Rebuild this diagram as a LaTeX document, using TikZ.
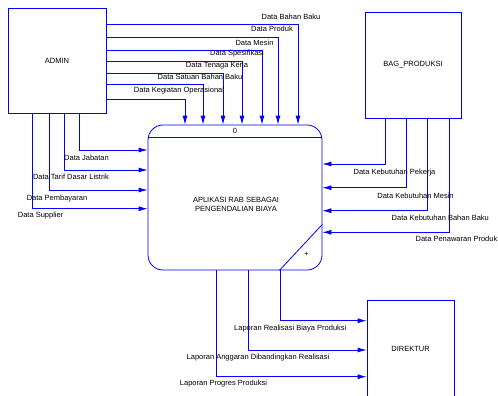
\documentclass[tikz,border=0pt]{standalone}
\usepackage{fontspec}
\setmainfont{Liberation Sans}
\usetikzlibrary{arrows.meta, positioning}

\tikzset{
  entity/.style={draw=blue, line width=0.8pt, minimum width=98pt, minimum height=105pt, inner sep=0pt},
  flow/.style={draw=blue, line width=0.8pt, -{Latex[length=9pt,width=5pt]}},
  lbl/.style={inner sep=0pt},
}

\begin{document}
\begin{tikzpicture}[x=1pt, y=-1pt, font=\fontsize{7.5}{9}\selectfont]
    \useasboundingbox (0,0) rectangle (498,396);

    % entities
    \node[entity] (admin) at (57,60.5) {ADMIN};
    \node[entity, minimum width=96pt, minimum height=106pt] (bag) at (413,65) {BAG\_PRODUKSI};
    \node[entity, minimum width=87pt, minimum height=98pt] (dir) at (410.5,349) {DIREKTUR};

    % process
    \node[draw=blue, line width=0.8pt, rounded corners=15pt, minimum width=174pt, minimum height=145pt] (proc) at (235,197.5) {};
    \node[lbl, align=center] (ptext) at (236,204) {APLIKASI RAB SEBAGAI\\PENGENDALIAN BIAYA};
    \node[lbl] (pid) at ([yshift=-6pt]proc.north) {0};
    \draw[blue, line width=0.8pt] ([yshift=-12.7pt]proc.north west) -- ([yshift=-12.7pt]proc.north east);
    \draw[blue, line width=0.8pt] ([xshift=-43pt]proc.south east) -- ([yshift=46pt]proc.south east);
    \node[lbl] (plus) at (306.5,254.5) {+};

    % flows
    \foreach \yy/\xx in {24.3/298, 37.3/278, 50/262, 61.7/242, 73.3/223, 84.3/203, 99/185}
        \draw[flow] (admin.east |- 0,\yy) -| (\xx,0 |- proc.north);
    \foreach \xx/\yy in {79/150, 64/170, 49.3/190, 32.7/208.7}
        \draw[flow] (\xx,0 |- admin.south) |- (proc.west |- 0,\yy);
    \foreach \xx/\yy in {385.7/164, 406.7/187.7, 427.7/210.7, 449/232.3}
        \draw[flow] (\xx,0 |- bag.south) |- (proc.east |- 0,\yy);
    \foreach \xx/\yy in {280.7/320.7, 248.3/350, 216/376.7}
        \draw[flow] (\xx,0 |- proc.south) |- (dir.west |- 0,\yy);

    % labels
    \node[lbl] (lBahan) at (291,17) {Data Bahan Baku};
    \node[lbl] (lProduk) at (272,29) {Data Produk};
    \node[lbl] (lMesin) at (254.5,42.7) {Data Mesin};
    \node[lbl] (lSpek) at (237,53.3) {Data Spesifikasi};
    \node[lbl] (lTenaga) at (217,65.7) {Data Tenaga Kerja};
    \node[lbl] (lSatuan) at (200,77.3) {Data Satuan Bahan Baku};
    \node[lbl] (lKegiatan) at (179,91) {Data Kegiatan Operasional};

    \node[lbl] (lJabatan) at (86.5,157.7) {Data Jabatan};
    \node[lbl] (lTarif) at (71,176.7) {Data Tarif Dasar Listrik};
    \node[lbl] (lBayar) at (57,199) {Data Pembayaran};
    \node[lbl] (lSupplier) at (40.6,216) {Data Supplier};

    \node[lbl] (lPekerja) at (394.5,172.3) {Data Kebutuhan Pekerja};
    \node[lbl] (lKbMesin) at (415.5,195.7) {Data Kebutuhan Mesin};
    \node[lbl] (lKbBahan) at (440.3,218.3) {Data Kebutuhan Bahan Baku};
    \node[lbl, anchor=east] (lPenawaran) at (497.5,239) {Data Penawaran Produk};

    \node[lbl] (lRealisasi) at (290.3,328.3) {Laporan Realisasi Biaya Produksi};
    \node[lbl] (lAnggaran) at (258,357.7) {Laporan Anggaran Dibandingkan Realisasi};
    \node[lbl] (lProgres) at (223.5,384) {Laporan Progres Produksi};
\end{tikzpicture}
\end{document}
